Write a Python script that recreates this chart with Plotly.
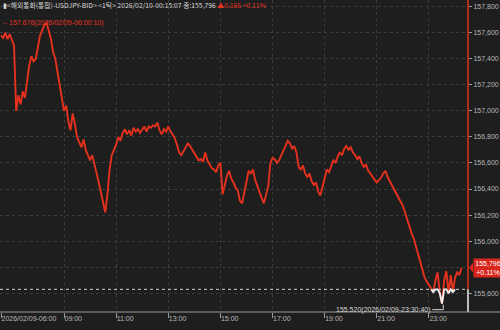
import plotly.graph_objects as go
import pandas as pd
import numpy as np

# ---------------- data ----------------
start_time = "2026-02-09 06:35"
prices = [
    # 06:35-06:55
    157.58, 157.56, 157.60, 157.55, 157.59,
    # 07
    157.55, 157.50, 157.00, 157.12, 157.05, 157.15, 157.10, 157.25, 157.35, 157.42, 157.38, 157.40,
    # 08
    157.48, 157.58, 157.62, 157.66, 157.676, 157.62, 157.55, 157.45, 157.40, 157.30, 157.20, 157.12,
    # 09
    157.00, 157.04, 156.92, 156.85, 156.98, 156.90, 156.80, 156.76, 156.72, 156.78, 156.70, 156.66,
    # 10
    156.62, 156.66, 156.58, 156.52, 156.45, 156.38, 156.30, 156.22, 156.36, 156.55, 156.66, 156.70,
    # 11
    156.74, 156.80, 156.77, 156.83, 156.86, 156.82, 156.85, 156.81, 156.87, 156.84, 156.86, 156.83,
    # 12
    156.86, 156.88, 156.84, 156.88, 156.87, 156.89, 156.88, 156.91, 156.85, 156.82, 156.86, 156.84,
    # 13
    156.88, 156.84, 156.82, 156.79, 156.74, 156.68, 156.66, 156.69, 156.72, 156.75, 156.73, 156.70,
    # 14
    156.67, 156.64, 156.62, 156.63, 156.61, 156.68, 156.62, 156.59, 156.56, 156.55, 156.53, 156.58,
    # 15
    156.60, 156.36, 156.44, 156.50, 156.54, 156.48, 156.45, 156.41, 156.39, 156.31, 156.29, 156.38,
    # 16
    156.47, 156.54, 156.52, 156.55, 156.47, 156.42, 156.38, 156.33, 156.29, 156.36, 156.42, 156.60,
    # 17
    156.64, 156.63, 156.60, 156.62, 156.66, 156.70, 156.74, 156.77, 156.75, 156.71, 156.73, 156.68,
    # 18
    156.57, 156.55, 156.58, 156.52, 156.49, 156.52, 156.46, 156.43, 156.45, 156.38, 156.35, 156.42,
    # 19
    156.50, 156.55, 156.53, 156.58, 156.62, 156.60, 156.65, 156.68, 156.66, 156.71, 156.73, 156.70,
    # 20
    156.72, 156.68, 156.66, 156.63, 156.65, 156.60, 156.57, 156.59, 156.54, 156.52, 156.49, 156.47,
    # 21
    156.45, 156.47, 156.49, 156.52, 156.54, 156.49, 156.46, 156.42, 156.39, 156.36, 156.33, 156.30,
    # 22
    156.27, 156.22, 156.16, 156.10, 156.06, 156.02, 155.96, 155.90, 155.82, 155.76, 155.72, 155.69,
    # 23
    155.66, 155.64, 155.61, 155.70, 155.76, 155.60, 155.52, 155.70, 155.77, 155.60, 155.74, 155.61,
    # 00
    155.72, 155.76, 155.74, 155.796,
]
prev_close = 155.630
last_price = 155.796
high_price, high_text = 157.676, "←157.676(2026/02/09-06:00:10)"
low_price, low_time, low_text = 155.520, "2026-02-09 23:30:40", "155.520(2026/02/09-23:30:40)"

x_tick_vals = ["2026-02-09 06:35", "2026-02-09 09:00", "2026-02-09 11:00", "2026-02-09 13:00",
               "2026-02-09 15:00", "2026-02-09 17:00", "2026-02-09 19:00", "2026-02-09 21:00",
               "2026-02-09 23:00"]
x_tick_text = ["2026/02/09-06:00", "09:00", "11:00", "13:00", "15:00", "17:00", "19:00", "21:00", "23:00"]
y_tick_vals = [155.6, 155.8, 156.0, 156.2, 156.4, 156.6, 156.8, 157.0, 157.2, 157.4, 157.6, 157.8]
y_tick_text = ["155,600", "", "156,000", "156,200", "156,400", "156,600", "156,800",
               "157,000", "157,200", "157,400", "157,600", "157,800"]
x_range = ["2026-02-09 06:32:42", "2026-02-10 00:29:50"]
y_range = [155.456, 157.851]

title_main = "▮<해외통화(통합)-USDJPY-BID> <1틱> 2026/02/10-00:15:07 종:155,796 "
title_change = "▲0.166 +0.11%"
box_text = "155,796<br>+0.11%"

# ---------------- styles ----------------
BG = "#1e1e1e"
RED = "#e5321f"
WHITE = "#f0f0f0"
GRID = "#3c3c3c"
AXIS = "#9a9a9a"
LABEL = "#b8b8b8"
FONT = "Liberation Sans, Arial, sans-serif"
KFONT = "Noto Sans CJK KR, Liberation Sans, sans-serif"

times = pd.date_range(start_time, periods=len(prices), freq="5min")
p = np.array(prices)
below = p < prev_close
white_y = []
for i in range(len(p)):
    if below[i]:
        white_y.append(p[i])
    elif (i > 0 and below[i - 1]) or (i < len(p) - 1 and below[i + 1]):
        white_y.append(prev_close)
    else:
        white_y.append(None)

fig = go.Figure()
fig.add_trace(go.Scatter(x=times, y=prices, mode="lines",
                         line=dict(color=RED, width=1.9), hoverinfo="skip", showlegend=False))
fig.add_trace(go.Scatter(x=times, y=white_y, mode="lines", connectgaps=False,
                         line=dict(color=WHITE, width=1.9), hoverinfo="skip", showlegend=False))

fig.update_layout(
    width=500, height=330,
    margin=dict(l=0, r=32, t=0, b=18),
    paper_bgcolor=BG, plot_bgcolor=BG,
    showlegend=False,
    xaxis=dict(type="date", range=x_range, tickvals=x_tick_vals, ticktext=x_tick_text,
               ticks="outside", ticklen=5, tickcolor=AXIS, ticklabelposition="outside right",
               tickfont=dict(family=FONT, size=7, color=LABEL),
               showgrid=True, gridcolor=GRID, griddash="dot", gridwidth=1,
               showline=False, zeroline=False),
    yaxis=dict(side="right", range=y_range, tickvals=y_tick_vals, ticktext=y_tick_text,
               ticks="outside", ticklen=3, tickcolor=AXIS,
               tickfont=dict(family=FONT, size=7, color=LABEL),
               showgrid=True, gridcolor=GRID, griddash="dot", gridwidth=1,
               showline=False, zeroline=False),
)

shapes = [
    dict(type="line", xref="paper", yref="y", x0=0, x1=1, y0=prev_close, y1=prev_close,
         line=dict(color="#d0d0d0", width=1, dash="dot")),
    dict(type="line", xref="paper", yref="y", x0=1, x1=1, y0=prev_close, y1=y_range[1],
         line=dict(color=RED, width=1.5)),
    dict(type="line", xref="paper", yref="y", x0=1, x1=1, y0=y_range[0], y1=prev_close,
         line=dict(color=WHITE, width=1.5)),
    dict(type="line", xref="paper", yref="paper", x0=0, x1=500 / 468, y0=0, y1=0,
         line=dict(color=AXIS, width=1)),
    dict(type="path", xref="paper", yref="y", xsizemode="pixel", ysizemode="pixel",
         xanchor=1, yanchor=last_price, path="M 1,0 L 5,5 L 5,-5 Z",
         fillcolor="#d8261c", line=dict(width=0)),
    dict(type="path", xref="x", yref="y", xsizemode="pixel", ysizemode="pixel",
         xanchor=low_time, yanchor=low_price, path="M -10,-6 L 1,-6 L 1,-1",
         line=dict(color="#d8d8d8", width=1)),
]
fig.update_layout(shapes=shapes)

annotations = [
    dict(xref="paper", yref="paper", x=0.002, y=1 - 5 / 312, xanchor="left", yanchor="middle",
         showarrow=False, align="left",
         text=f"<span style='color:#d6d6d6'>{title_main}</span><span style='color:{RED}'>{title_change}</span>",
         font=dict(family=KFONT, size=6.8, color="#d6d6d6")),
    dict(xref="paper", yref="y", x=0, y=high_price, xanchor="left", yanchor="middle",
         showarrow=False, text=high_text, font=dict(family=FONT, size=7, color=RED)),
    dict(xref="x", yref="y", x=low_time, y=low_price, xanchor="right", yanchor="middle",
         xshift=-9, yshift=-6, showarrow=False, text=low_text,
         font=dict(family=FONT, size=7, color="#d8d8d8")),
    dict(xref="paper", yref="y", x=1 + 5 / 468, y=last_price, xanchor="left", yanchor="middle",
         showarrow=False, text=box_text, align="center", bgcolor="#d8261c", borderpad=1,
         width=26, font=dict(family=FONT, size=7, color="#ffffff")),
]
fig.update_layout(annotations=annotations)

fig.write_html("out.html")
